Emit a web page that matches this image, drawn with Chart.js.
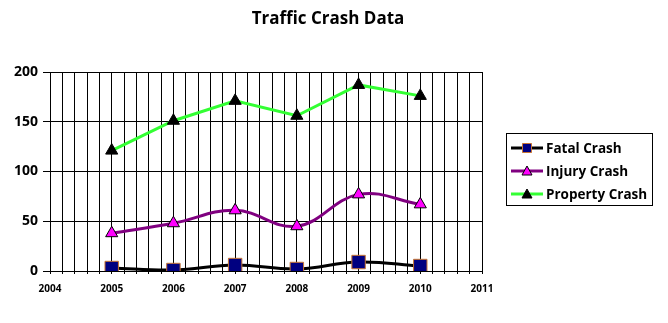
<!DOCTYPE html>
<html>
<head>
<meta charset="utf-8">
<script src="https://cdn.jsdelivr.net/npm/chart.js@4/dist/chart.umd.min.js"></script>
<style>
  html, body { margin: 0; padding: 0; background: #fff; }
  #wrap { width: 668px; height: 323px; }
</style>
</head>
<body>
<div id="wrap"><canvas id="crashChart" width="668" height="323"></canvas></div>
<script>
// Jahre und Unfallzahlen
const years = [2005, 2006, 2007, 2008, 2009, 2010];
const fatalCrash = [3, 1, 6, 2, 9, 5];
const injuryCrash = [38, 48, 61, 45, 77, 67];
const propertyCrash = [121, 151, 171, 156, 187, 176];
const seriesNames = ['Fatal Crash', 'Injury Crash', 'Property Crash'];
const chartTitle = 'Traffic Crash Data';
const yTicks = [0, 50, 100, 150, 200];
const xRange = [2004, 2011];

const toPoints = (vals) => vals.map((v, i) => ({ x: years[i], y: v }));

const FONT = '"Open Sans", "Liberation Sans", sans-serif';

// Titel mittig über der ganzen Grafik (nicht nur über der Plotfläche)
const pageTitle = {
  id: 'pageTitle',
  afterDraw(chart) {
    const ctx = chart.ctx;
    ctx.save();
    ctx.fillStyle = '#000';
    ctx.font = 'bold 17px ' + FONT;
    ctx.textAlign = 'center';
    ctx.textBaseline = 'middle';
    ctx.fillText(chartTitle, 328, 19);
    ctx.restore();
  }
};

// Legende mit Rahmen rechts neben dem Diagramm
const boxLegend = {
  id: 'boxLegend',
  afterDraw(chart) {
    const ctx = chart.ctx;
    ctx.save();
    ctx.strokeStyle = '#000';
    ctx.lineWidth = 1;
    ctx.strokeRect(506.5, 133.5, 146, 72);
    const rows = [148, 171, 194];
    chart.data.datasets.forEach((ds, i) => {
      const y = rows[i];
      ctx.strokeStyle = ds.borderColor;
      ctx.lineWidth = 3;
      ctx.beginPath();
      ctx.moveTo(511, y);
      ctx.lineTo(543, y);
      ctx.stroke();
      ctx.fillStyle = ds.pointBackgroundColor;
      ctx.strokeStyle = ds.pointBorderColor;
      ctx.lineWidth = 1;
      ctx.beginPath();
      if (ds.pointStyle === 'rect') {
        ctx.rect(522.5, y - 4.5, 9, 9);
      } else {
        ctx.moveTo(527, y - 5);
        ctx.lineTo(532, y + 4);
        ctx.lineTo(522, y + 4);
        ctx.closePath();
      }
      ctx.fill();
      ctx.stroke();
      ctx.fillStyle = '#000';
      ctx.font = 'bold 13.5px ' + FONT;
      ctx.textBaseline = 'middle';
      ctx.textAlign = 'left';
      ctx.fillText(ds.label, 546, y + 1);
    });
    ctx.restore();
  }
};

const ctx = document.getElementById('crashChart').getContext('2d');
new Chart(ctx, {
  type: 'line',
  data: {
    datasets: [
      {
        label: seriesNames[0],
        data: toPoints(fatalCrash),
        borderColor: '#000000',
        borderWidth: 3,
        tension: 0.4,
        pointStyle: 'rect',
        pointRadius: 9.5,
        pointBackgroundColor: '#000080',
        pointBorderColor: '#c87533',
        pointBorderWidth: 1
      },
      {
        label: seriesNames[1],
        data: toPoints(injuryCrash),
        borderColor: '#800080',
        borderWidth: 3,
        tension: 0.4,
        pointStyle: 'triangle',
        pointRadius: 7,
        pointBackgroundColor: '#ff00ff',
        pointBorderColor: '#000000',
        pointBorderWidth: 1
      },
      {
        label: seriesNames[2],
        data: toPoints(propertyCrash),
        borderColor: '#33ff33',
        borderWidth: 3,
        tension: 0,
        pointStyle: 'triangle',
        pointRadius: 7,
        pointBackgroundColor: '#000000',
        pointBorderColor: '#000000',
        pointBorderWidth: 1
      }
    ]
  },
  options: {
    responsive: false,
    animation: false,
    layout: { padding: { left: 0, right: 186, top: 72, bottom: 0 } },
    plugins: {
      legend: { display: false },
      tooltip: { enabled: false },
      title: { display: false }
    },
    scales: {
      x: {
        type: 'linear',
        min: xRange[0],
        max: xRange[1],
        afterFit(scale) { scale.height = 52; },
        border: { color: '#000', width: 1 },
        grid: { color: '#000', lineWidth: 1, tickLength: 3 },
        ticks: {
          stepSize: 0.2,
          autoSkip: false,
          maxRotation: 0,
          padding: 9,
          color: '#000',
          font: { family: FONT, size: 10, weight: 'bold' },
          callback(v) {
            const r = Math.round(v);
            return Math.abs(v - r) < 1e-6 ? String(r) : '';
          }
        }
      },
      y: {
        min: yTicks[0],
        max: yTicks[yTicks.length - 1],
        afterFit(scale) { scale.width = 50; },
        border: { color: '#000', width: 1 },
        grid: { color: '#000', lineWidth: 1, tickLength: 7 },
        afterBuildTicks(scale) { scale.ticks = yTicks.map(v => ({ value: v })); },
        ticks: {
          padding: 5,
          color: '#000',
          font: { family: FONT, size: 14, weight: 'bold' }
        }
      }
    }
  },
  plugins: [pageTitle, boxLegend]
});
</script>
</body>
</html>
